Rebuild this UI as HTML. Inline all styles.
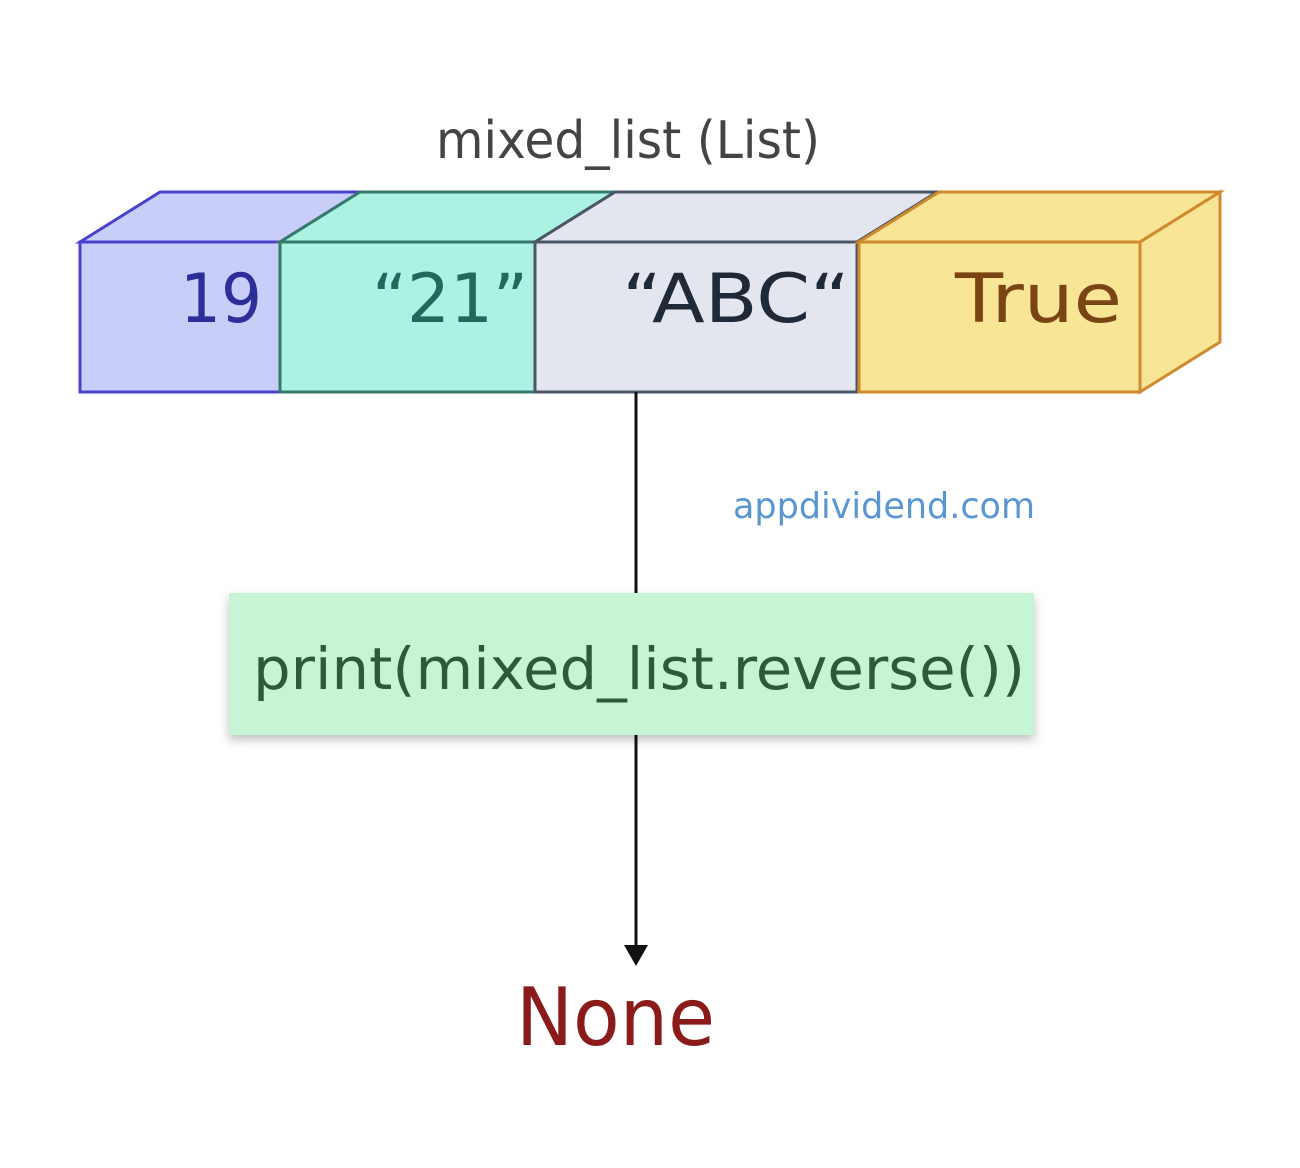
<!DOCTYPE html>
<html><head><style>html,body{margin:0;padding:0;background:#fff;}svg{display:block}</style></head>
<body>
<svg width="1300" height="1168" viewBox="0 0 1300 1168" xmlns="http://www.w3.org/2000/svg" font-family="'DejaVu Sans','Liberation Sans',sans-serif">
<defs>
<filter id="sh" x="-5%" y="-10%" width="110%" height="130%"><feDropShadow dx="0" dy="5" stdDeviation="5" flood-color="#000" flood-opacity="0.25"/></filter>
</defs>
<text x="436" y="158" font-size="52" fill="#444" textLength="384" lengthAdjust="spacingAndGlyphs">mixed_list (List)</text>
<polygon points="80,242 160,192 360,192 280,242" fill="#c8cef8" stroke="#4a42cc" stroke-width="3"/>
<rect x="80" y="242" width="200" height="150" fill="#c8cef8" stroke="#4a42cc" stroke-width="3"/>
<polygon points="280,242 360,192 615,192 535,242" fill="#acf2e2" stroke="#357a6a" stroke-width="3"/>
<rect x="280" y="242" width="255" height="150" fill="#acf2e2" stroke="#357a6a" stroke-width="3"/>
<polygon points="535,242 615,192 937,192 857,242" fill="#e3e6ee" stroke="#4a5566" stroke-width="3"/>
<rect x="535" y="242" width="322" height="150" fill="#e3e6ee" stroke="#4a5566" stroke-width="3"/>
<polygon points="859,242 939,192 1220,192 1140,242" fill="#f9e596" stroke="#d08a2e" stroke-width="3"/>
<polygon points="1140,242 1220,192 1220,342 1140,392" fill="#f9e596" stroke="#d08a2e" stroke-width="3"/>
<rect x="859" y="242" width="281" height="150" fill="#f9e596" stroke="#d08a2e" stroke-width="3"/>
<text x="180" y="322" font-size="68" fill="#2e2e9a" textLength="82" lengthAdjust="spacingAndGlyphs">19</text>
<text x="372" y="322" font-size="68" fill="#25675a" textLength="156" lengthAdjust="spacingAndGlyphs">“21”</text>
<text x="622" y="322" font-size="68" fill="#1f2937" textLength="228" lengthAdjust="spacingAndGlyphs">“ABC“</text>
<text x="955" y="322" font-size="68" fill="#7a4414" textLength="167" lengthAdjust="spacingAndGlyphs">True</text>
<line x1="636" y1="392" x2="636" y2="593" stroke="#111" stroke-width="3"/>
<text x="733" y="518" font-size="36" fill="#5a97d2" textLength="302" lengthAdjust="spacingAndGlyphs">appdividend.com</text>
<rect x="229" y="593" width="805" height="142" fill="#c6f4d4" filter="url(#sh)"/>
<text x="253" y="689" font-size="58" fill="#2d5a37" textLength="772" lengthAdjust="spacingAndGlyphs">print(mixed_list.reverse())</text>
<line x1="636" y1="735" x2="636" y2="950" stroke="#111" stroke-width="3"/>
<polygon points="624,945 648,945 636,966" fill="#111"/>
<text x="516" y="1045" font-size="80" fill="#8b1a1a" textLength="199" lengthAdjust="spacingAndGlyphs">None</text>
</svg>
</body></html>
